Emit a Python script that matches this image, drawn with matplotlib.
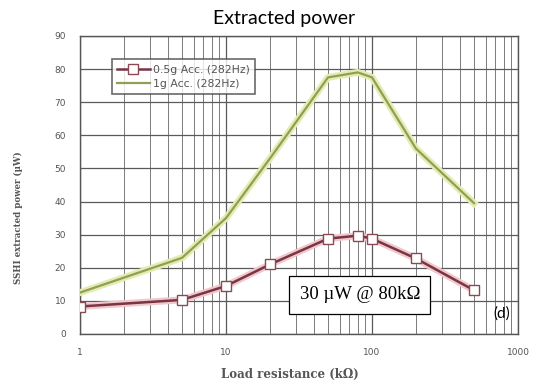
import numpy as np
import matplotlib
matplotlib.use("Agg")
import matplotlib.pyplot as plt
from matplotlib.ticker import FixedLocator, NullFormatter

# load resistance (kOhm) and SSHI extracted power (uW)
r_load = [1, 5, 10, 20, 50, 80, 100, 200, 500]
p_half_g = [8.3, 10.3, 14.5, 21.0, 28.8, 29.7, 28.8, 22.8, 13.2]
p_one_g = [12.5, 23.0, 35.0, 53.0, 77.5, 79.0, 77.5, 56.0, 39.5]
label_half_g = "0.5g Acc. (282Hz)"
label_one_g = "1g Acc. (282Hz)"
y_ticks = [0, 10, 20, 30, 40, 50, 60, 70, 80, 90]
x_ticks = [1, 10, 100, 1000]

fig = plt.figure(figsize=(5.39, 3.82), dpi=100)
ax = fig.add_axes([0.1484, 0.1257, 0.8126, 0.7801])

ax.set_xscale("log")
ax.set_xlim(1, 1000)
ax.set_ylim(0, 90)

# grid: every decade step on x, every 10 on y
minor = [m * d for d in (1, 10, 100) for m in range(2, 10)]
ax.xaxis.set_major_locator(FixedLocator(x_ticks))
ax.xaxis.set_minor_locator(FixedLocator(minor))
ax.xaxis.set_minor_formatter(NullFormatter())
ax.set_xticklabels([str(t) for t in x_ticks])
ax.set_yticks(y_ticks)
ax.grid(True, which="major", color="#5a5a5a", lw=0.9)
ax.grid(True, which="minor", axis="x", color="#7a7a7a", lw=0.7)
ax.tick_params(which="both", length=0, pad=10, labelsize=6.5, labelcolor="#555555")
for s in ax.spines.values():
    s.set_color("#555555")
    s.set_linewidth(1.0)

# 1g curve: pale halo under an olive line
ax.plot(r_load, p_one_g, color="#e4ecb0", lw=5, solid_joinstyle="round", zorder=3)
ax.plot(r_load, p_one_g, color="#8f9f58", lw=1.6, zorder=4, label=label_one_g)

# 0.5g curve with open square markers
ax.plot(r_load, p_half_g, color="#f0c8cc", lw=5, solid_joinstyle="round", zorder=3)
ax.plot(r_load, p_half_g, color="#7a3444", lw=1.8, marker="s", ms=6.5,
        mfc="white", mec="#8a4a55", mew=1.0, zorder=5, label=label_half_g)

h, l = ax.get_legend_handles_labels()
leg = ax.legend(h[::-1], l[::-1], loc="upper left", bbox_to_anchor=(0.06, 0.94),
                fontsize=7.8, frameon=True, fancybox=False, edgecolor="#444444",
                handlelength=3.0, borderpad=0.5, labelspacing=0.4,
                handletextpad=0.3)
leg.get_frame().set_linewidth(1.2)
for t in leg.get_texts():
    t.set_color("#555555")

fig.text(290 / 539, 1 - 374 / 382, "Load resistance (k\u03a9)", fontsize=8.5,
         family="serif", fontweight="bold", color="#555555",
         ha="center", va="center")
fig.text(18 / 539, 1 - 218 / 382, "SSHI extracted power (\u00b5W)", fontsize=6.2,
         family="serif", fontweight="bold", color="#555555",
         ha="center", va="center", rotation=90)

fig.text(284 / 539, 0.952, "Extracted power", ha="center", va="center",
         fontsize=14, family="Lato")

ax.text(0.639, 0.131, "30 \u00b5W @ 80k\u03a9", transform=ax.transAxes,
        family="Liberation Serif", fontsize=13.5, ha="center", va="center",
        bbox=dict(boxstyle="square,pad=0.55", fc="white", ec="black", lw=0.9),
        zorder=6)
ax.text(0.982, 0.067, "(d)", transform=ax.transAxes, fontsize=11, family="Lato",
        ha="right", va="center", zorder=6)

fig.savefig("out.png", dpi=100)
